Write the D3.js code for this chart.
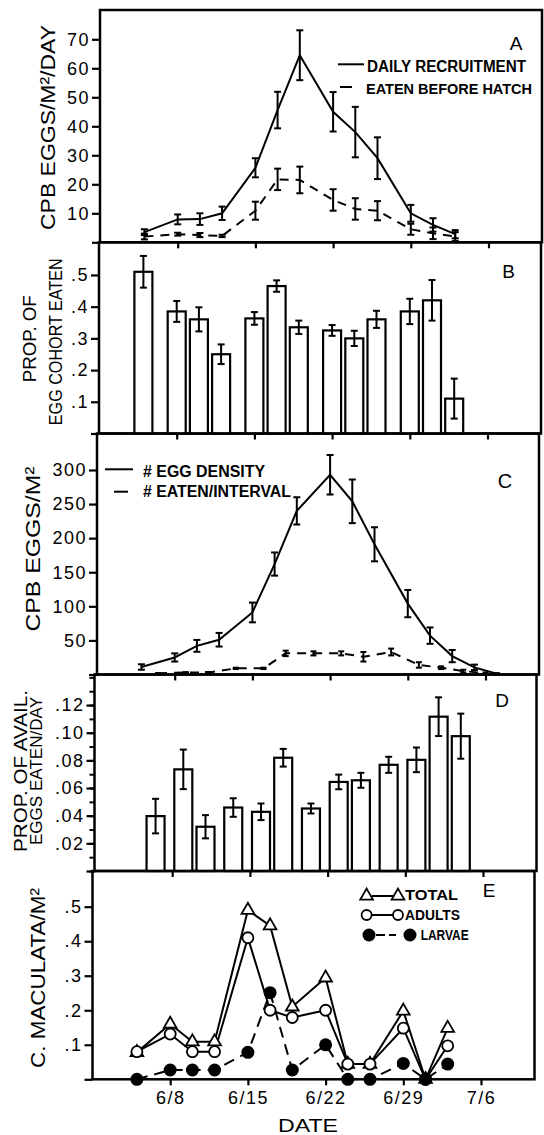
<!DOCTYPE html>
<html>
<head>
<meta charset="utf-8">
<script src="https://cdn.jsdelivr.net/npm/d3@7"></script>
<style>
  body { margin: 0; background: #fff; }
  svg text { font-family: "Liberation Sans", Arial, sans-serif; fill: #000; }
  .axis path, .axis line { stroke: #000; }
  .axis text { font-size: 18px; letter-spacing: 1.5px; fill: #000; }
</style>
</head>
<body>
<div id="chart"></div>
<script>
// dates are day-of-June (7/6 = 36)
const sampleDays = [5, 8, 10, 12, 15, 17, 19, 22, 24, 26, 29, 31, 33]
const densityDays = [5, 8, 10, 12, 15, 17, 19, 22, 24, 26, 29, 31, 33, 35, 37]
const intervalDays = [6.5, 9, 11, 13.5, 16, 18, 20.5, 23, 25, 27.5, 30, 32, 34]
const densityIntervalDays = [6.5, 9, 11, 13.5, 16, 18, 20.5, 23, 25, 27.5, 30, 32, 34, 36]
const dateTicks = [8, 15, 22, 29, 36]
const dateLabels = ["6/8", "6/15", "6/22", "6/29", "7/6"]

// A: CPB eggs / m2 / day
const recruitMean = [3.5, 7.9, 8, 10, 25.7, 45.6, 64.5, 45, 38, 29, 10, 6, 2.8]
const recruitErr = [1, 1.7, 2, 2.3, 3.3, 6.3, 8.6, 6.8, 8.7, 7.2, 2.9, 2.3, 1.4]
const eatenHatchMean = [2, 2.8, 2.5, 2.2, 10.9, 21.7, 21.5, 14.6, 11.5, 10.9, 4.5, 3.1, 2]
const eatenHatchErr = [1, 0.5, 0.7, 0.4, 3.1, 3.7, 4.6, 3.7, 3.7, 3.3, 1.9, 2, 1.5]

// B: proportion of egg cohort eaten
const cohortEaten = [0.51, 0.385, 0.36, 0.25, 0.363, 0.465, 0.335, 0.325, 0.30, 0.36, 0.385, 0.42, 0.11]
const cohortErr = [0.05, 0.033, 0.038, 0.031, 0.02, 0.018, 0.021, 0.017, 0.024, 0.027, 0.04, 0.064, 0.063]

// C: CPB eggs / m2
const eggDensity = [11, 25, 42, 51, 91, 162, 240, 293, 254, 191, 104, 57, 27, 10.5, 1]
const eggDensityErr = [4, 6, 8.7, 10, 14.5, 17, 20, 29, 32, 25, 20, 12, 9, 4, 1]
const eatenInterval = [1.7, 3, 2.7, 9, 9, 31, 31, 31, 26, 33, 14, 10, 5, 2]
const eatenIntervalErr = [0.5, 0.5, 1, 1, 1, 4, 3, 3, 7, 5, 4, 2, 2, 1]

// D: proportion of available eggs eaten / day
const availEaten = [0.0397, 0.0735, 0.032, 0.0459, 0.0428, 0.0819, 0.0452, 0.0644, 0.0656, 0.0768, 0.0804, 0.1116, 0.0975]
const availErr = [0.0125, 0.0143, 0.0084, 0.0067, 0.006, 0.0064, 0.0036, 0.0053, 0.0054, 0.0058, 0.0089, 0.014, 0.0163]

// E: C. maculata / m2
const totalCm = [0.078, 0.16, 0.109, 0.109, 0.49, 0.445, 0.21, 0.294, 0.044, 0.044, 0.198, 0, 0.148]
const adultsCm = [0.08, 0.131, 0.08, 0.08, 0.41, 0.2, 0.179, 0.2, 0.044, 0.044, 0.148, 0, 0.097]
const larvaeCm = [0, 0.027, 0.027, 0.027, 0.078, 0.251, 0.027, 0.1, 0, 0, 0.046, 0, 0.044]

const W = 544, H = 1135
const plotW = 442

const svg = d3.select("#chart").append("svg")
    .attr("width", W)
    .attr("height", H)

const xScale = d3.scaleLinear().domain([1, 40.82]).range([0, plotW])

// the scan is a bit skewed, so each panel sits slightly further left
const panels = {
  A: { left: 100, top: 10, bottom: 242.3, max: 80.1 },
  B: { left: 99, top: 242.3, bottom: 433.5, max: 0.603 },
  C: { left: 97, top: 433.5, bottom: 674.5, max: 353.5 },
  D: { left: 94.5, top: 674.5, bottom: 871, max: 0.1421 },
  E: { left: 92.5, top: 871, bottom: 1079.3, max: 0.6034 }
}

function makePanel (p, ticks, fmt, minor) {
  const h = p.bottom - p.top
  const g = svg.append("g").attr("transform", "translate(" + p.left + "," + p.top + ")")
  const y = d3.scaleLinear().domain([0, p.max]).range([h, 0])

  if (minor) {
    g.append("g").attr("class", "axis")
      .call(d3.axisLeft(y).tickValues(minor).tickSize(5).tickFormat(""))
      .call(a => a.selectAll("line").attr("stroke-width", 2))
      .call(a => a.select(".domain").remove())
  }
  g.append("g").attr("class", "axis")
    .call(d3.axisLeft(y).tickValues(ticks).tickSize(8).tickPadding(2).tickFormat(fmt))
    .call(a => a.selectAll("line").attr("stroke-width", 2.2))
    .call(a => a.select(".domain").remove())

  g.append("g").attr("class", "axis")
    .attr("transform", "translate(0," + h + ")")
    .call(d3.axisBottom(xScale).tickValues(dateTicks).tickSize(6).tickPadding(6)
      .tickFormat((d, i) => p === panels.E ? dateLabels[i] : ""))
    .call(a => a.selectAll("line").attr("stroke-width", 2.2))
    .call(a => a.select(".domain").remove())

  g.append("rect")
    .attr("width", plotW).attr("height", h)
    .attr("fill", "none").attr("stroke", "#000").attr("stroke-width", 2.5)

  return { g, y, h }
}

const noZero = f => d => d === 0 ? "" : f(d).replace(/^0/, "")

function errorBars (g, y, days, means, errs, cap) {
  const rows = days.map((d, i) => ({ d, m: means[i], e: errs[i] }))
  const eb = g.append("g").attr("stroke", "#000").attr("stroke-width", 2)
  eb.selectAll(".v").data(rows).enter().append("line")
    .attr("x1", r => xScale(r.d)).attr("x2", r => xScale(r.d))
    .attr("y1", r => y(Math.max(0, r.m - r.e))).attr("y2", r => y(r.m + r.e))
  eb.selectAll(".t").data(rows).enter().append("line")
    .attr("x1", r => xScale(r.d) - cap).attr("x2", r => xScale(r.d) + cap)
    .attr("y1", r => y(r.m + r.e)).attr("y2", r => y(r.m + r.e))
  eb.selectAll(".b").data(rows).enter().append("line")
    .attr("x1", r => xScale(r.d) - cap).attr("x2", r => xScale(r.d) + cap)
    .attr("y1", r => y(Math.max(0, r.m - r.e))).attr("y2", r => y(Math.max(0, r.m - r.e)))
}

function series (g, y, days, means, dash) {
  const line = d3.line().x(d => xScale(d[0])).y(d => y(d[1]))
  g.append("path")
    .attr("d", line(days.map((d, i) => [d, means[i]])))
    .attr("fill", "none").attr("stroke", "#000").attr("stroke-width", 2)
    .attr("stroke-dasharray", dash || null)
}

function bars (g, y, h, days, means, errs) {
  g.selectAll(".bar").data(days).enter().append("rect")
    .attr("x", (d, i) => xScale(d) - 9)
    .attr("width", 18)
    .attr("y", (d, i) => y(means[i]))
    .attr("height", (d, i) => h - y(means[i]))
    .attr("fill", "#fff").attr("stroke", "#000").attr("stroke-width", 2.2)
  errorBars(g, y, days, means, errs, 3.5)
}

function rotTitle (txt, x, cy, len, size) {
  svg.append("text")
    .attr("transform", "translate(" + x + "," + cy + ") rotate(-90)")
    .attr("text-anchor", "middle")
    .attr("textLength", len).attr("lengthAdjust", "spacingAndGlyphs")
    .style("font-size", size + "px")
    .text(txt)
}

function label (txt, x, y, size, len, anchor) {
  const t = svg.append("text")
    .attr("x", x).attr("y", y)
    .attr("text-anchor", anchor || "start")
    .style("font-size", size + "px")
    .style("font-weight", "bold")
    .text(txt)
  if (len) t.attr("textLength", len).attr("lengthAdjust", "spacingAndGlyphs")
  return t
}

// ---- A
const pa = makePanel(panels.A, d3.range(0, 71, 10), d => d === 0 ? "" : d)
series(pa.g, pa.y, sampleDays, recruitMean)
errorBars(pa.g, pa.y, sampleDays, recruitMean, recruitErr, 3.5)
series(pa.g, pa.y, sampleDays, eatenHatchMean, "9,7")
errorBars(pa.g, pa.y, sampleDays, eatenHatchMean, eatenHatchErr, 3.5)

// ---- B
const pb = makePanel(panels.B, d3.range(0, 0.51, 0.1), noZero(d3.format(".1f")))
bars(pb.g, pb.y, pb.h, sampleDays, cohortEaten, cohortErr)

// ---- C
const pc = makePanel(panels.C, d3.range(0, 301, 50), d => d === 0 ? "" : d)
series(pc.g, pc.y, densityDays, eggDensity)
errorBars(pc.g, pc.y, densityDays, eggDensity, eggDensityErr, 3.5)
series(pc.g, pc.y, densityIntervalDays, eatenInterval, "9,7")
errorBars(pc.g, pc.y, densityIntervalDays, eatenInterval, eatenIntervalErr, 3)

// ---- D
const pd = makePanel(panels.D, d3.range(0, 0.121, 0.02), noZero(d3.format(".2f")), d3.range(0, 0.141, 0.01))
bars(pd.g, pd.y, pd.h, intervalDays, availEaten, availErr)

// ---- E
const pe = makePanel(panels.E, d3.range(0, 0.51, 0.1), noZero(d3.format(".1f")))
series(pe.g, pe.y, sampleDays, totalCm)
series(pe.g, pe.y, sampleDays, adultsCm)
series(pe.g, pe.y, sampleDays, larvaeCm, "11,7")

const tri = d3.symbol(d3.symbolTriangle).size(70)
pe.g.selectAll(".tri").data(sampleDays).enter().append("path")
  .attr("d", tri)
  .attr("transform", (d, i) => "translate(" + xScale(d) + "," + pe.y(totalCm[i]) + ")")
  .attr("fill", "#fff").attr("stroke", "#000").attr("stroke-width", 1.8)
pe.g.selectAll(".ad").data(sampleDays).enter().append("circle")
  .attr("cx", d => xScale(d)).attr("cy", (d, i) => pe.y(adultsCm[i])).attr("r", 5.5)
  .attr("fill", "#fff").attr("stroke", "#000").attr("stroke-width", 1.8)
pe.g.selectAll(".lv").data(sampleDays).enter().append("circle")
  .attr("cx", d => xScale(d)).attr("cy", (d, i) => pe.y(larvaeCm[i])).attr("r", 6.5)
  .attr("fill", "#000")

// ---- titles
rotTitle("CPB EGGS/M²/DAY", 55, 127.5, 205, 20)
rotTitle("PROP. OF", 36, 338.7, 87, 19)
rotTitle("EGG COHORT EATEN", 62, 341.7, 167, 19)
rotTitle("CPB EGGS/M²", 40, 549, 165, 21)
rotTitle("PROP. OF AVAIL.", 27, 771, 162, 18)
rotTitle("EGGS EATEN/DAY", 41.5, 771, 148, 16)
rotTitle("C. MACULATA/M²", 45, 978, 180, 20)

svg.append("text").attr("x", 308).attr("y", 1132).attr("text-anchor", "middle")
  .style("font-size", "18px").attr("textLength", 60).attr("lengthAdjust", "spacingAndGlyphs").text("DATE")

// panel letters
label("A", 516, 50, 19, null, "middle").style("font-weight", "normal")
label("B", 508.6, 278, 19, null, "middle").style("font-weight", "normal")
label("C", 505, 488, 20, null, "middle").style("font-weight", "normal")
label("D", 502, 706.7, 19, null, "middle").style("font-weight", "normal")
label("E", 489, 896.7, 19, null, "middle").style("font-weight", "normal")

// legend A
svg.append("line").attr("x1", 338).attr("x2", 364).attr("y1", 64.3).attr("y2", 64.3)
  .attr("stroke", "#000").attr("stroke-width", 2)
label("DAILY RECRUITMENT", 367, 72, 16, 159)
svg.append("line").attr("x1", 340).attr("x2", 352).attr("y1", 87).attr("y2", 87)
  .attr("stroke", "#000").attr("stroke-width", 2)
label("EATEN BEFORE HATCH", 366, 94, 15, 166)

// legend C
svg.append("line").attr("x1", 105).attr("x2", 133).attr("y1", 469.3).attr("y2", 469.3)
  .attr("stroke", "#000").attr("stroke-width", 2)
label("# EGG DENSITY", 143, 476.7, 16, 122)
svg.append("line").attr("x1", 114).attr("x2", 128).attr("y1", 491.7).attr("y2", 491.7)
  .attr("stroke", "#000").attr("stroke-width", 2)
label("# EATEN/INTERVAL", 143, 496.7, 16, 148)

// legend E
const leg = svg.append("g")
leg.append("line").attr("x1", 372).attr("x2", 393).attr("y1", 896).attr("y2", 896).attr("stroke", "#000").attr("stroke-width", 2)
leg.append("line").attr("x1", 372).attr("x2", 393).attr("y1", 915).attr("y2", 915).attr("stroke", "#000").attr("stroke-width", 2)
leg.append("line").attr("x1", 376).attr("x2", 396).attr("y1", 935).attr("y2", 935).attr("stroke", "#000").attr("stroke-width", 2)
  .attr("stroke-dasharray", "9,4")
;[366.6, 398].forEach(x => {
  leg.append("path").attr("d", tri).attr("transform", "translate(" + x + ",896)")
    .attr("fill", "#fff").attr("stroke", "#000").attr("stroke-width", 1.8)
  leg.append("circle").attr("cx", x).attr("cy", 915).attr("r", 5)
    .attr("fill", "#fff").attr("stroke", "#000").attr("stroke-width", 1.8)
})
;[369, 410].forEach(x => {
  leg.append("circle").attr("cx", x).attr("cy", 935).attr("r", 6.5).attr("fill", "#000")
})
label("TOTAL", 405, 900, 14, 53)
label("ADULTS", 405, 919.5, 14, 55)
label("LARVAE", 420.7, 939.5, 14, 48)
</script>
</body>
</html>
